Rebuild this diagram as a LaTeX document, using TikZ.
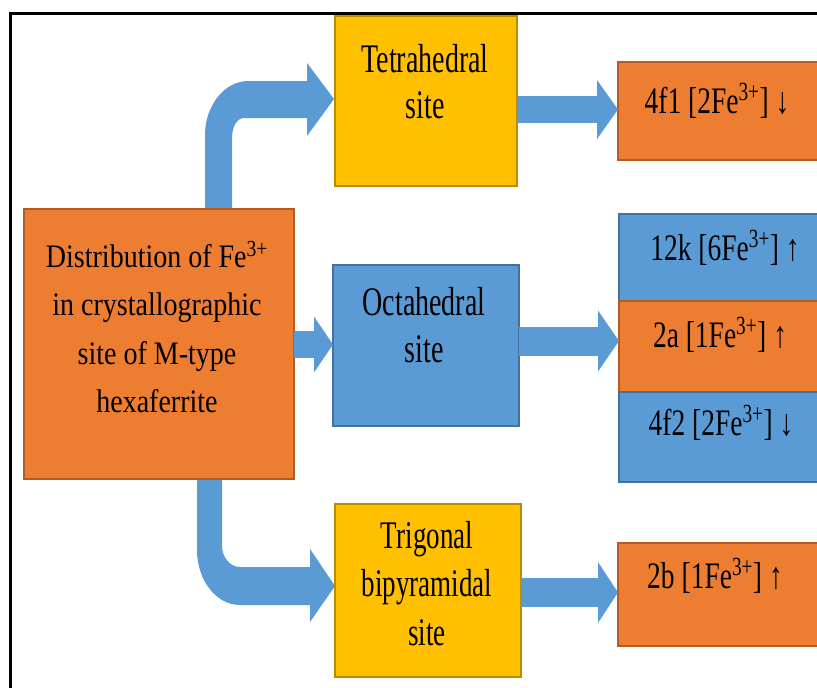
\documentclass[tikz,border=0pt]{standalone}
\usepackage{fontspec}
\setmainfont{Liberation Serif}
\usetikzlibrary{arrows.meta}
\definecolor{orangeF}{HTML}{ED7D31}
\definecolor{orangeD}{HTML}{B05C23}
\definecolor{blueF}{HTML}{5B9BD5}
\definecolor{blueD}{HTML}{41719C}
\definecolor{goldF}{HTML}{FFC000}
\definecolor{goldD}{HTML}{BC8C00}
\newcommand{\boxtext}[4]{\scalebox{1}[#1]{\fontsize{#2}{#3}\selectfont\begin{tabular}[t]{@{}c@{}}#4\end{tabular}}}
\pgfdeclarelayer{bg}
\pgfsetlayers{bg,main}
\begin{document}
\begin{tikzpicture}[x=1pt,y=-1pt,
  box/.style={rectangle, line width=1.2pt, inner sep=0pt, outer sep=0pt},
  orangebox/.style={box, fill=orangeF, draw=orangeD},
  bluebox/.style={box, fill=blueF, draw=blueD},
  goldbox/.style={box, fill=goldF, draw=goldD},
  txt/.style={anchor=base, inner sep=0pt, text=black},
  blockarrow/.style={fill=blueF, draw=none},
  straightarrow/.style={blueF, line cap=butt}
]
\useasboundingbox (0,0) rectangle (817,688);
% frame
\draw[line width=3pt] (10.5,700) -- (10.5,13.5) -- (830,13.5);

% boxes
\node[orangebox, minimum width=270pt, minimum height=270pt] (main) at (159,344) {};
\node[goldbox, minimum width=182pt, minimum height=170pt] (tet) at (426,101) {};
\node[bluebox, minimum width=186pt, minimum height=161pt] (oct) at (426,345.5) {};
\node[goldbox, minimum width=186pt, minimum height=173pt] (tri) at (428,590.5) {};
\node[orangebox, minimum width=212pt, minimum height=98pt] (f41) at (724,111) {};
\node[bluebox, minimum width=211pt, minimum height=87pt] (k12) at (724.5,257.5) {};
\node[orangebox, minimum width=211pt, minimum height=91pt] (a2) at (724.5,346.5) {};
\node[bluebox, minimum width=211pt, minimum height=90pt] (f42) at (724.5,437) {};
\node[orangebox, minimum width=212pt, minimum height=103pt] (b2) at (724,594.5) {};

% texts
\node[txt] (tmain) at (157,267) {\boxtext{1.17}{28}{41.5}{Distribution of Fe\textsuperscript{3+}\\ in crystallographic\\ site of M-type\\ hexaferrite}};
\node[txt] (ttet) at (425,72) {\boxtext{1.45}{28}{32}{Tetrahedral\\ site}};
\node[txt] (toct) at (424,315) {\boxtext{1.45}{28}{33}{Octahedral\\ site}};
\node[txt] (ttri) at (427,548) {\boxtext{1.45}{27}{33.5}{Trigonal\\ bipyramidal\\ site}};
\node[txt] (tf41) at (717,113) {\boxtext{1.36}{27.5}{33}{4f1 [2Fe\textsuperscript{3+}] ↓}};
\node[txt] (tk12) at (725,260) {\boxtext{1.36}{27.5}{33}{12k [6Fe\textsuperscript{3+}] ↑}};
\node[txt] (ta2) at (720,347) {\boxtext{1.36}{27.5}{33}{2a [1Fe\textsuperscript{3+}] ↑}};
\node[txt] (tf42) at (721,435) {\boxtext{1.36}{27.5}{33}{4f2 [2Fe\textsuperscript{3+}] ↓}};
\node[txt] (tb2) at (715,588) {\boxtext{1.36}{27.5}{33}{2b [1Fe\textsuperscript{3+}] ↑}};

% arrows
\begin{pgfonlayer}{bg}
\fill[blockarrow] (205,209) -- (205,135) .. controls (205,105) and (225,81) .. (248,81)
  -- (307,81) -- (307,63) -- (334,99) -- (307,136) -- (307,118) -- (244,118)
  .. controls (237,118) and (232,127) .. (232,138) -- (232,209) -- cycle;
\fill[blockarrow] (197,479) -- (197,550) .. controls (197,580) and (216,605) .. (240,605)
  -- (310,605) -- (310,622) -- (335,586) -- (310,549) -- (310,567) -- (240,567)
  .. controls (230,567) and (222,557) .. (222,546) -- (222,479) -- cycle;
\end{pgfonlayer}
\draw[straightarrow, line width=27pt, -{Triangle[length=19pt,width=55pt]}] (main.east |- 0,344.5) -- (oct.west |- 0,344.5);
\draw[straightarrow, line width=27pt, -{Triangle[length=21pt,width=58pt]}] (tet.east |- 0,109.5) -- (f41.west |- 0,109.5);
\draw[straightarrow, line width=29pt, -{Triangle[length=21pt,width=60pt]}] (oct.east |- 0,341) -- (k12.west |- 0,341);
\draw[straightarrow, line width=29pt, -{Triangle[length=20pt,width=60pt]}] (tri.east |- 0,592.5) -- (b2.west |- 0,592.5);
\end{tikzpicture}
\end{document}
